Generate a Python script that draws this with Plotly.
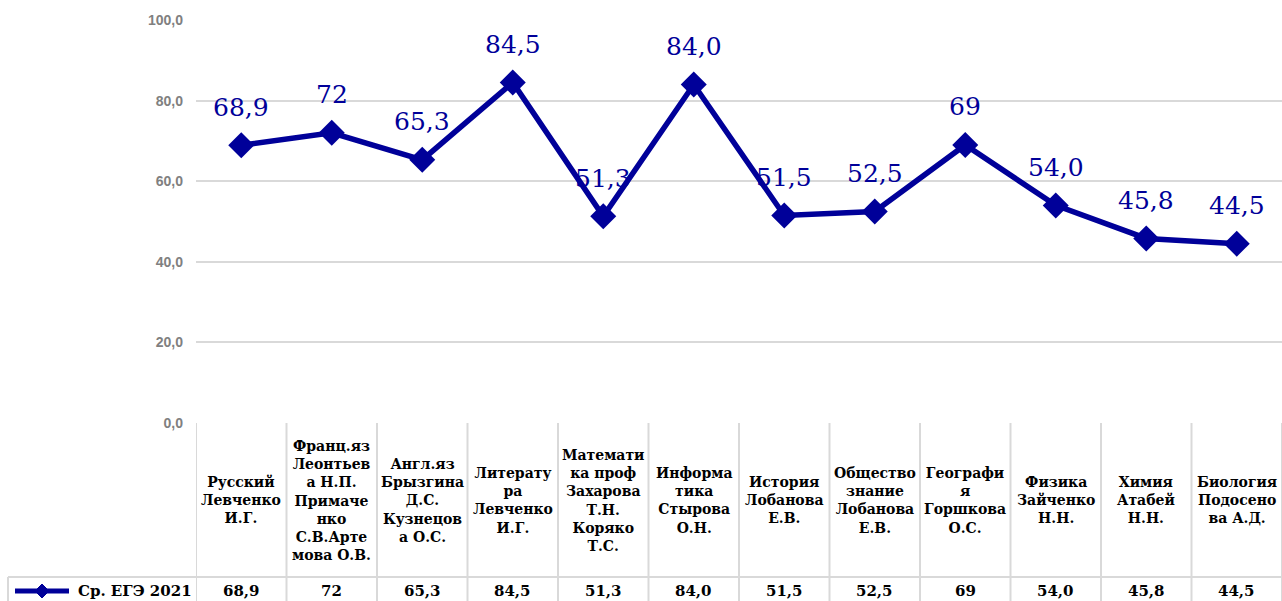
import plotly.graph_objects as go

categories = [
    "Русский<br>Левченко<br>И.Г.",
    "Франц.яз<br>Леонтьев<br>а Н.П.<br>Примаче<br>нко<br>С.В.Арте<br>мова О.В.",
    "Англ.яз<br>Брызгина<br>Д.С.<br>Кузнецов<br>а О.С.",
    "Литерату<br>ра<br>Левченко<br>И.Г.",
    "Математи<br>ка проф<br>Захарова<br>Т.Н.<br>Коряко<br>Т.С.",
    "Информа<br>тика<br>Стырова<br>О.Н.",
    "История<br>Лобанова<br>Е.В.",
    "Общество<br>знание<br>Лобанова<br>Е.В.",
    "Географи<br>я<br>Горшкова<br>О.С.",
    "Физика<br>Зайченко<br>Н.Н.",
    "Химия<br>Атабей<br>Н.Н.",
    "Биология<br>Подосено<br>ва А.Д.",
]
values = [68.9, 72, 65.3, 84.5, 51.3, 84.0, 51.5, 52.5, 69, 54.0, 45.8, 44.5]
value_labels = ["68,9", "72", "65,3", "84,5", "51,3", "84,0", "51,5", "52,5", "69", "54,0", "45,8", "44,5"]
series_name = "Ср. ЕГЭ 2021"
y_ticks = [0, 20, 40, 60, 80, 100]

W, H = 1282, 601
BLUE = "#000099"
GRID = "#d9d9d9"
SERIF = "DejaVu Serif"


def py(p):
    return (H - p) / H


def px(p):
    return p / W


x_idx = list(range(len(values)))

fig = go.Figure()
fig.add_trace(go.Scatter(
    x=x_idx, y=values, mode="lines+markers",
    line=dict(color=BLUE, width=5.5),
    marker=dict(symbol="diamond", size=20, color=BLUE),
    name=series_name, showlegend=False, hoverinfo="skip",
))

annotations = []
# data labels
for i, (v, t) in enumerate(zip(values, value_labels)):
    annotations.append(dict(
        x=i, y=v, xref="x", yref="y", text=t, showarrow=False,
        yanchor="middle", yshift=38,
        font=dict(family=SERIF, size=25, color=BLUE),
    ))
# table header
for i, c in enumerate(categories):
    annotations.append(dict(
        x=i, y=py(500), xref="x", yref="paper", text=c, showarrow=False,
        yanchor="middle", xanchor="center", align="center",
        font=dict(family=SERIF, size=14, color="#000000", weight="bold"),
    ))
    annotations.append(dict(
        x=i, y=py(591), xref="x", yref="paper", text=value_labels[i], showarrow=False,
        yanchor="middle", xanchor="center",
        font=dict(family=SERIF, size=15, color="#000000", weight="bold"),
    ))
# legend text
annotations.append(dict(
    x=px(76), y=py(591), xref="paper", yref="paper", text=series_name, showarrow=False,
    xanchor="left", yanchor="middle",
    font=dict(family=SERIF, size=15, color="#000000", weight="bold"),
))

shapes = []
line_style = dict(color=GRID, width=2)
# vertical table lines
for k in range(len(values) + 1):
    shapes.append(dict(type="line", xref="x", yref="paper",
                       x0=k - 0.5, x1=k - 0.5, y0=py(423), y1=py(601), line=line_style, layer="below"))
# left legend cell border
shapes.append(dict(type="line", xref="paper", yref="paper",
                   x0=px(8), x1=px(8), y0=py(577), y1=py(601), line=line_style))
# horizontal row line
shapes.append(dict(type="line", xref="paper", yref="paper",
                   x0=px(8), x1=1, y0=py(577), y1=py(577), line=line_style))
# legend key
shapes.append(dict(type="line", xref="paper", yref="paper",
                   x0=px(15), x1=px(69), y0=py(591), y1=py(591),
                   line=dict(color=BLUE, width=5)))
cx, cy, r = 42, 591, 7
shapes.append(dict(type="path", xref="paper", yref="paper",
                   path=f"M {px(cx - r)} {py(cy)} L {px(cx)} {py(cy - r)} L {px(cx + r)} {py(cy)} L {px(cx)} {py(cy + r)} Z",
                   fillcolor=BLUE, line=dict(color=BLUE, width=1)))

fig.update_layout(
    width=W, height=H,
    margin=dict(l=0, r=0, t=0, b=0, pad=0),
    paper_bgcolor="white", plot_bgcolor="white",
    separators=", ",
    showlegend=False,
    xaxis=dict(domain=[px(196), 1], range=[-0.5, len(values) - 0.5], automargin=False,
               showticklabels=False, showgrid=False, zeroline=False, fixedrange=True),
    yaxis=dict(domain=[py(423), py(20)], range=[0, 100], tickvals=y_ticks, automargin=False,
               tickformat=".1f", showgrid=True, gridcolor=GRID, gridwidth=2,
               zeroline=False, ticks="", ticklabelstandoff=12,
               tickfont=dict(family="Liberation Sans", size=14, color="#808080", weight="bold")),
    annotations=annotations,
    shapes=shapes,
)

fig.write_html(
    "out.html",
    config={"displayModeBar": False},
    post_script="document.body.style.margin='0';document.body.style.overflow='hidden';",
)
